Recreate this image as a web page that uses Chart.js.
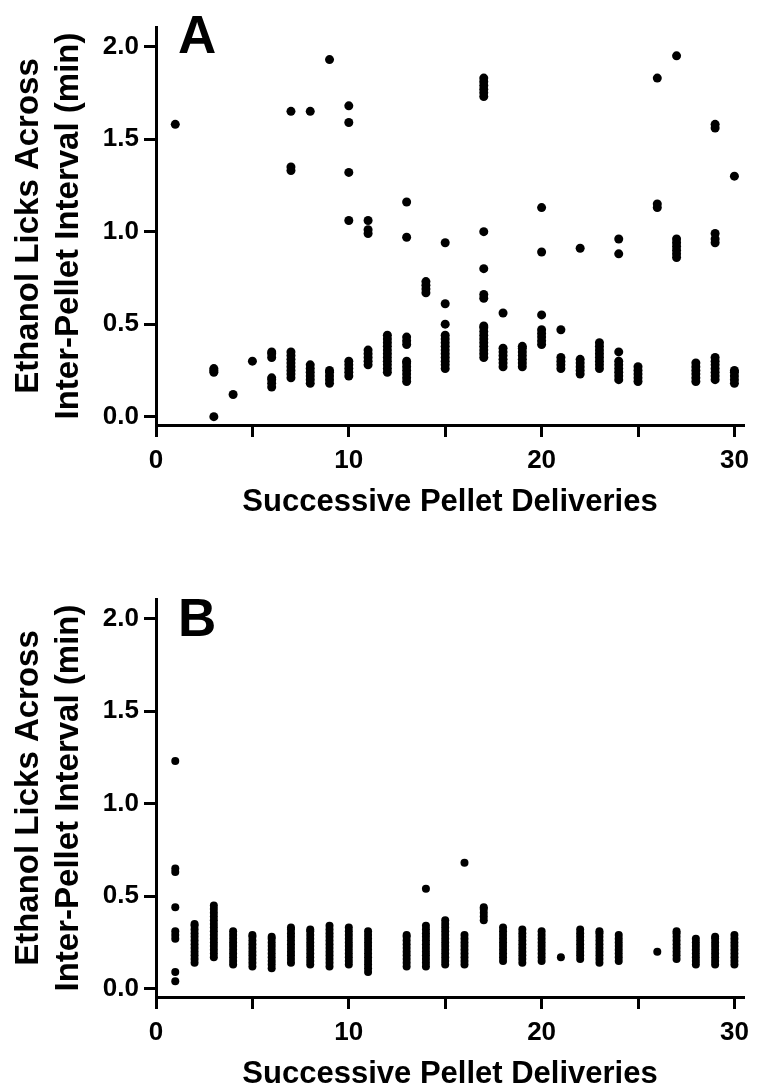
<!DOCTYPE html>
<html>
<head>
<meta charset="utf-8">
<script src="https://cdn.jsdelivr.net/npm/chart.js@4.4.1/dist/chart.umd.min.js"></script>
<style>
  html, body { margin: 0; padding: 0; background: #fff; overflow: hidden; }
  #wrap { position: relative; width: 760px; height: 1088px; }
  canvas { position: absolute; left: 0; }
  .panel { position: absolute; font: bold 53px 'Liberation Sans', Arial, sans-serif; line-height: 53px; color: #000; }
</style>
</head>
<body>
<div id="wrap">
  <canvas id="chartA" width="760" height="518" style="top:0"></canvas>
  <canvas id="chartB" width="760" height="518" style="top:572px"></canvas>
  <div class="panel" style="left:178px; top:8px">A</div>
  <div class="panel" style="left:178px; top:591px">B</div>
</div>
<script>
const FONT = "'Liberation Sans', Arial, sans-serif";

const deliveries = [1, 2, 3, 4, 5, 6, 7, 8, 9, 10, 11, 12, 13, 14, 15,
  16, 17, 18, 19, 20, 21, 22, 23, 24, 25, 26, 27, 28, 29, 30];
const xTicks = [0, 5, 10, 15, 20, 25, 30];
const yTicks = [0, 0.5, 1.0, 1.5, 2.0];
const xTitle = "Successive Pellet Deliveries";
const yTitle = ["Ethanol Licks Across", "Inter-Pellet Interval (min)"];

// panel A: one list of values per delivery
const licksA = [
  [1.58],
  [],
  [0.00, 0.24, 0.25, 0.26],
  [0.12],
  [0.30],
  [0.16, 0.18, 0.20, 0.21, 0.32, 0.34, 0.35],
  [0.21, 0.23, 0.25, 0.27, 0.29, 0.31, 0.33, 0.35, 1.33, 1.35, 1.65],
  [0.18, 0.20, 0.22, 0.24, 0.26, 0.28, 1.65],
  [0.18, 0.20, 0.22, 0.24, 0.25, 1.93],
  [0.22, 0.24, 0.26, 0.28, 0.30, 1.06, 1.32, 1.59, 1.68],
  [0.28, 0.30, 0.32, 0.34, 0.36, 0.99, 1.01, 1.06],
  [0.24, 0.26, 0.28, 0.30, 0.32, 0.34, 0.36, 0.38, 0.40, 0.42, 0.44],
  [0.19, 0.21, 0.23, 0.25, 0.27, 0.29, 0.30, 0.39, 0.41, 0.43, 0.97, 1.16],
  [0.67, 0.69, 0.71, 0.73],
  [0.26, 0.28, 0.30, 0.32, 0.34, 0.36, 0.38, 0.40, 0.42, 0.44, 0.50, 0.61, 0.94],
  [],
  [0.32, 0.34, 0.36, 0.38, 0.40, 0.42, 0.44, 0.46, 0.48, 0.49, 0.64, 0.66, 0.80, 1.00,
   1.73, 1.75, 1.77, 1.79, 1.81, 1.83],
  [0.27, 0.29, 0.31, 0.33, 0.35, 0.37, 0.56],
  [0.27, 0.29, 0.31, 0.33, 0.35, 0.37, 0.38],
  [0.39, 0.41, 0.43, 0.45, 0.47, 0.55, 0.89, 1.13],
  [0.26, 0.28, 0.30, 0.32, 0.47],
  [0.23, 0.25, 0.27, 0.29, 0.31, 0.91],
  [0.26, 0.28, 0.30, 0.32, 0.34, 0.36, 0.38, 0.40],
  [0.20, 0.22, 0.24, 0.26, 0.28, 0.30, 0.35, 0.88, 0.96],
  [0.19, 0.21, 0.23, 0.25, 0.27],
  [1.13, 1.15, 1.83],
  [0.86, 0.88, 0.90, 0.92, 0.94, 0.96, 1.95],
  [0.19, 0.21, 0.23, 0.25, 0.27, 0.29],
  [0.20, 0.22, 0.24, 0.26, 0.28, 0.30, 0.32, 0.94, 0.96, 0.99, 1.56, 1.58],
  [0.18, 0.20, 0.22, 0.24, 0.25, 1.30]
];

// panel B
const licksB = [
  [0.04, 0.09, 0.27, 0.29, 0.31, 0.44, 0.63, 0.65, 1.23],
  [0.14, 0.16, 0.18, 0.20, 0.22, 0.24, 0.26, 0.28, 0.30, 0.32, 0.34, 0.35],
  [0.17, 0.19, 0.21, 0.23, 0.25, 0.27, 0.29, 0.31, 0.33, 0.35, 0.37, 0.39, 0.41, 0.43, 0.45],
  [0.13, 0.15, 0.17, 0.19, 0.21, 0.23, 0.25, 0.27, 0.29, 0.31],
  [0.12, 0.14, 0.16, 0.18, 0.20, 0.22, 0.24, 0.26, 0.28, 0.29],
  [0.11, 0.13, 0.15, 0.17, 0.19, 0.21, 0.23, 0.25, 0.27, 0.28],
  [0.14, 0.16, 0.18, 0.20, 0.22, 0.24, 0.26, 0.28, 0.30, 0.32, 0.33],
  [0.13, 0.15, 0.17, 0.19, 0.21, 0.23, 0.25, 0.27, 0.29, 0.31, 0.32],
  [0.12, 0.14, 0.16, 0.18, 0.20, 0.22, 0.24, 0.26, 0.28, 0.30, 0.32, 0.34],
  [0.13, 0.15, 0.17, 0.19, 0.21, 0.23, 0.25, 0.27, 0.29, 0.31, 0.33],
  [0.09, 0.11, 0.13, 0.15, 0.17, 0.19, 0.21, 0.23, 0.25, 0.27, 0.29, 0.31],
  [],
  [0.12, 0.14, 0.16, 0.18, 0.20, 0.22, 0.24, 0.26, 0.28, 0.29],
  [0.12, 0.14, 0.16, 0.18, 0.20, 0.22, 0.24, 0.26, 0.28, 0.30, 0.32, 0.34, 0.54],
  [0.13, 0.15, 0.17, 0.19, 0.21, 0.23, 0.25, 0.27, 0.29, 0.31, 0.33, 0.35, 0.37],
  [0.13, 0.15, 0.17, 0.19, 0.21, 0.23, 0.25, 0.27, 0.29, 0.68],
  [0.37, 0.39, 0.41, 0.43, 0.44],
  [0.15, 0.17, 0.19, 0.21, 0.23, 0.25, 0.27, 0.29, 0.31, 0.33],
  [0.14, 0.16, 0.18, 0.20, 0.22, 0.24, 0.26, 0.28, 0.30, 0.32],
  [0.15, 0.17, 0.19, 0.21, 0.23, 0.25, 0.27, 0.29, 0.31],
  [0.17],
  [0.16, 0.18, 0.20, 0.22, 0.24, 0.26, 0.28, 0.30, 0.32],
  [0.14, 0.16, 0.18, 0.20, 0.22, 0.24, 0.26, 0.28, 0.30, 0.31],
  [0.15, 0.17, 0.19, 0.21, 0.23, 0.25, 0.27, 0.29],
  [],
  [0.20],
  [0.16, 0.18, 0.20, 0.22, 0.24, 0.26, 0.28, 0.30, 0.31],
  [0.13, 0.15, 0.17, 0.19, 0.21, 0.23, 0.25, 0.27],
  [0.13, 0.15, 0.17, 0.19, 0.21, 0.23, 0.25, 0.27, 0.28],
  [0.13, 0.15, 0.17, 0.19, 0.21, 0.23, 0.25, 0.27, 0.29]
];

function toPoints(cols) {
  return deliveries.flatMap((d, i) => cols[i].map((v) => ({ x: d, y: v })));
}

const axisGrid = { drawOnChartArea: false, tickLength: 12, tickWidth: 3, tickColor: "#000" };
const axisBorder = { display: true, width: 3, color: "#000" };
const tickFont = { family: FONT, size: 26, weight: "bold", lineHeight: 1 };

function makeChart(id, cols, radius) {
  return new Chart(document.getElementById(id), {
    type: "scatter",
    data: {
      datasets: [{
        data: toPoints(cols),
        pointRadius: radius,
        pointHoverRadius: radius,
        pointBackgroundColor: "#000",
        pointBorderWidth: 0,
      }],
    },
    options: {
      responsive: false,
      animation: false,
      devicePixelRatio: 1,
      layout: { padding: { top: 27, left: 0, right: 8, bottom: 0 } },
      plugins: { legend: { display: false }, tooltip: { enabled: false } },
      scales: {
        x: {
          type: "linear",
          min: 0,
          max: 30.5,
          afterBuildTicks: (s) => { s.ticks = xTicks.map((v) => ({ value: v })); },
          afterFit: (s) => { s.height = 93; },
          grid: axisGrid,
          border: axisBorder,
          ticks: {
            color: "#000",
            padding: 11,
            maxRotation: 0,
            autoSkip: false,
            font: tickFont,
            callback: (v) => (v % 10 === 0 ? String(v) : ""),
          },
          title: {
            display: true,
            text: xTitle,
            color: "#000",
            padding: 0,
            font: { family: FONT, size: 31, weight: "bold", lineHeight: 1 },
          },
        },
        y: {
          min: -0.045,
          max: 2.106,
          afterBuildTicks: (s) => { s.ticks = yTicks.map((v) => ({ value: v })); },
          afterFit: (s) => { s.width = 156; },
          grid: axisGrid,
          border: axisBorder,
          ticks: {
            color: "#000",
            padding: 5,
            font: tickFont,
            callback: (v) => Number(v).toFixed(1),
          },
          title: {
            display: true,
            text: yTitle,
            color: "#000",
            padding: { top: 9, bottom: 0 },
            font: { family: FONT, size: 33, weight: "bold", lineHeight: 1.22 },
          },
        },
      },
    },
  });
}

makeChart("chartA", licksA, 4.5);
makeChart("chartB", licksB, 4.0);
</script>
</body>
</html>
